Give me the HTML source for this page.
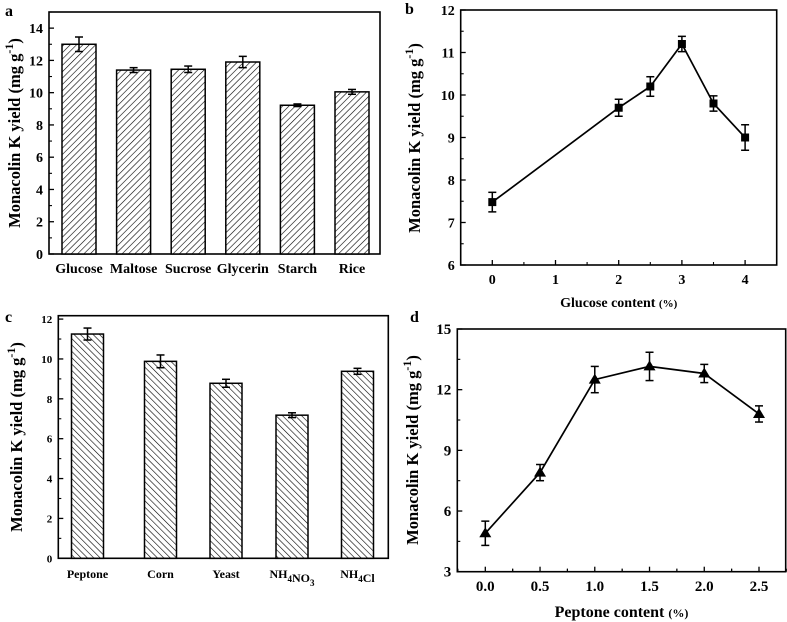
<!DOCTYPE html>
<html><head><meta charset="utf-8"><style>
html,body{margin:0;padding:0;background:#fff}
svg{display:block}
svg text{font-family:"Liberation Serif","Times New Roman",Times,serif;font-weight:bold}
</style></head><body>
<svg id="s" width="787" height="622" viewBox="0 0 787 622" xmlns="http://www.w3.org/2000/svg" font-family="Liberation Serif, serif" font-weight="bold">
<defs>
<pattern id="hf" patternUnits="userSpaceOnUse" width="4.5" height="4.5" patternTransform="rotate(45)"><rect width="4.5" height="4.5" fill="#fff"/><line x1="0" y1="0" x2="0" y2="4.5" stroke="#000" stroke-width="1.2"/></pattern>
<pattern id="hb" patternUnits="userSpaceOnUse" width="4.5" height="4.5" patternTransform="rotate(-45)"><rect width="4.5" height="4.5" fill="#fff"/><line x1="0" y1="0" x2="0" y2="4.5" stroke="#000" stroke-width="1.2"/></pattern>
</defs>
</svg>
<script>
const aCats=["Glucose","Maltose","Sucrose","Glycerin","Starch","Rice"];
const aVals=[13.0,11.4,11.45,11.9,9.22,10.05];
const aErr=[0.45,0.15,0.2,0.35,0.08,0.15];
const aTicks=[0,2,4,6,8,10,12,14];
const bX=[0,2,2.5,3,3.5,4];
const bVals=[7.48,9.7,10.2,11.2,9.8,9.0];
const bErr=[0.23,0.2,0.23,0.18,0.18,0.3];
const bYTicks=[6,7,8,9,10,11,12];
const bXTicks=[0,1,2,3,4];
const cCats=["Peptone","Corn","Yeast","NH4NO3","NH4Cl"];
const cVals=[11.25,9.88,8.78,7.18,9.38];
const cErr=[0.3,0.32,0.2,0.12,0.15];
const cTicks=[0,2,4,6,8,10,12];
const dX=[0,0.5,1.0,1.5,2.0,2.5];
const dVals=[4.9,7.9,12.5,13.15,12.8,10.8];
const dErr=[0.6,0.4,0.65,0.7,0.45,0.4];
const dYTicks=[3,6,9,12,15];
const dXTicks=["0.0","0.5","1.0","1.5","2.0","2.5"];

const S=document.getElementById('s');
const NS="http://www.w3.org/2000/svg";
function mk(tag,attrs,parent){const e=document.createElementNS(NS,tag);for(const k in attrs)e.setAttribute(k,attrs[k]);(parent||S).appendChild(e);return e;}
function txt(x,y,s,size,anchor,parent){const t=mk('text',{x:x,y:y,'font-size':size,'text-anchor':anchor||'middle','font-family':'Liberation Serif, serif','font-weight':'bold'},parent);t.innerHTML=s;return t;}
function lin(x1,y1,x2,y2,w,parent){return mk('line',{x1:x1,y1:y1,x2:x2,y2:y2,stroke:'#000','stroke-width':w||1.3},parent);}
function chemLabel(s){return s.replace(/(\d)/g,'<tspan font-size="9" dy="4">$1</tspan><tspan dy="-4"></tspan>');}
function ytitle(x,y){const t=mk('text',{x:0,y:0,'font-size':16.5,'text-anchor':'middle','font-family':'Liberation Serif, serif','font-weight':'bold',transform:`translate(${x},${y}) rotate(-90)`});t.innerHTML='Monacolin K yield (mg g<tspan font-size="12" dy="-7">-1</tspan><tspan dy="7">)</tspan>';return t;}

function frame(name,L,T,R,B){const g=mk('g',{});mk('rect',{x:L,y:T,width:R-L,height:B-T,fill:'none',stroke:'#000','stroke-width':1.6},g);return g;}

// Panel a
(function(){
 const L=49,T=12,R=380,B=254,ymin=0,ymax=15;
 const g=frame('panel-a',L,T,R,B);
 const y=v=>B-(v-ymin)/(ymax-ymin)*(B-T);
 const x=i=>79+i*54.6;
 aTicks.forEach(v=>{lin(L,y(v),L+5,y(v),1.3,g);lin(L,y(v+1),L+3,y(v+1),1.1,g);txt(L-6,y(v)+5,v,14,'end',g);});
 aCats.forEach((c,i)=>{
  const r=mk('rect',{x:x(i)-17,y:y(aVals[i]),width:34,height:B-y(aVals[i]),fill:'url(#hf)',stroke:'#000','stroke-width':1.5},g);
  
  
  const t=y(aVals[i]+aErr[i]),b=y(aVals[i]-aErr[i]);
  lin(x(i),t,x(i),b,1.5,g);lin(x(i)-4,t,x(i)+4,t,1.5,g);lin(x(i)-4,b,x(i)+4,b,1.5,g);
  const tl=txt(x(i),273,c,14,'middle',g);
  
 });
 ytitle(20,133);
 txt(5,16,'a',16,'start');
})();

// Panel b
(function(){
 const L=460.7,T=10,R=776.7,B=265,ymin=6,ymax=12,xmin=-0.5,xmax=4.5;
 const g=frame('panel-b',L,T,R,B);
 const y=v=>B-(v-ymin)/(ymax-ymin)*(B-T);
 const x=v=>L+(v-xmin)/(xmax-xmin)*(R-L);
 bYTicks.forEach(v=>{lin(L,y(v),L+5,y(v),1.3,g);if(v<12)lin(L,y(v+0.5),L+3,y(v+0.5),1.1,g);txt(L-6,y(v)+5,v,14,'end',g);});
 bXTicks.forEach(v=>{lin(x(v),B,x(v),B-5,1.3,g);lin(x(v+0.5),B,x(v+0.5),B-3,1.1,g);txt(x(v),284,v,14,'middle',g);});
 const pts=bX.map((v,i)=>x(v)+','+y(bVals[i])).join(' ');
 const pl=mk('polyline',{points:pts,fill:'none',stroke:'#000','stroke-width':1.7},g);
 
 
 bX.forEach((v,i)=>{
  const cx=x(v),cy=y(bVals[i]),t=y(bVals[i]+bErr[i]),b=y(bVals[i]-bErr[i]);
  lin(cx,t,cx,b,1.5,g);lin(cx-4,t,cx+4,t,1.5,g);lin(cx-4,b,cx+4,b,1.5,g);
  const m=mk('rect',{x:cx-4,y:cy-4,width:8,height:8,fill:'#000'},g);
  
  
 });
 const xt=txt((L+R)/2,307,'Glucose content <tspan font-size="11">(%)</tspan>',14,'middle',g);
 
 ytitle(420,138);
 txt(405,14,'b',16,'start');
})();

// Panel c
(function(){
 const L=58.3,T=315.7,R=388.3,B=558.3,ymin=0,ymax=12.17;
 const g=frame('panel-c',L,T,R,B);
 const y=v=>B-(v-ymin)/(ymax-ymin)*(B-T);
 const xs=[87.5,160.5,226,292,357.5];
 cTicks.forEach(v=>{lin(L,y(v),L+5,y(v),1.3,g);if(v<12)lin(L,y(v+1),L+3,y(v+1),1.1,g);txt(L-6,y(v)+4,v,11,'end',g);});
 cCats.forEach((c,i)=>{
  const cx=xs[i];
  const r=mk('rect',{x:cx-16,y:y(cVals[i]),width:32,height:B-y(cVals[i]),fill:'url(#hb)',stroke:'#000','stroke-width':1.5},g);
  
  
  const t=y(cVals[i]+cErr[i]),b=y(cVals[i]-cErr[i]);
  lin(cx,t,cx,b,1.5,g);lin(cx-4,t,cx+4,t,1.5,g);lin(cx-4,b,cx+4,b,1.5,g);
  const tl=txt(cx,578,chemLabel(c),12,'middle',g);
  
 });
 ytitle(22,437);
 txt(5,322,'c',16,'start');
})();

// Panel d
(function(){
 const L=457.3,T=329,R=785.7,B=571.7,ymin=3,ymax=15;
 const x0=485.3,x1=759,xmin=0,xmax=2.5;
 const g=frame('panel-d',L,T,R,B);
 const y=v=>B-(v-ymin)/(ymax-ymin)*(B-T);
 const x=v=>x0+(v-xmin)/(xmax-xmin)*(x1-x0);
 dYTicks.forEach(v=>{lin(L,y(v),L+5,y(v),1.3,g);if(v<15)lin(L,y(v+1.5),L+3,y(v+1.5),1.1,g);txt(L-6,y(v)+5,v,15,'end',g);});
 dXTicks.forEach(s=>{const v=parseFloat(s);lin(x(v),B,x(v),B-5,1.3,g);lin(x(v+0.25),B,x(v+0.25),B-3,1.1,g);lin(x(v-0.25),B,x(v-0.25),B-3,1.1,g);txt(x(v),591,s,15,'middle',g);});
 const pts=dX.map((v,i)=>x(v)+','+y(dVals[i])).join(' ');
 const pl=mk('polyline',{points:pts,fill:'none',stroke:'#000','stroke-width':1.7},g);
 
 
 dX.forEach((v,i)=>{
  const cx=x(v),cy=y(dVals[i]),t=y(dVals[i]+dErr[i]),b=y(dVals[i]-dErr[i]);
  lin(cx,t,cx,b,1.5,g);lin(cx-4,t,cx+4,t,1.5,g);lin(cx-4,b,cx+4,b,1.5,g);
  const m=mk('polygon',{points:`${cx},${cy-6} ${cx-6},${cy+4} ${cx+6},${cy+4}`,fill:'#000'},g);
  
  
 });
 const xt=txt((L+R)/2,617,'Peptone content <tspan font-size="12">(%)</tspan>',16,'middle',g);
 
 ytitle(418,450);
 txt(410,322,'d',16,'start');
})();
</script>
</body></html>
